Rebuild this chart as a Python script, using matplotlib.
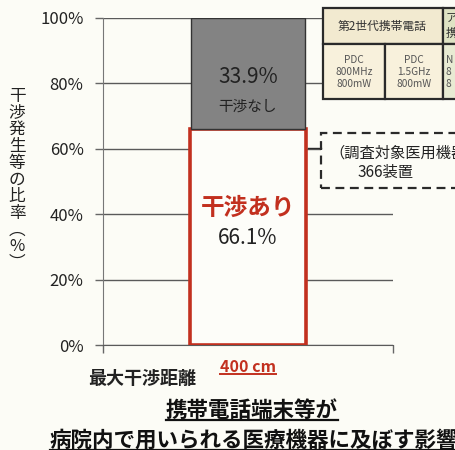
import numpy as np
import matplotlib.pyplot as plt
from matplotlib.patches import Rectangle
from matplotlib.lines import Line2D

plt.rcParams['font.family'] = ['Noto Sans CJK JP', 'DejaVu Sans']

categories = ['400 cm']
interference = [66.1]      # 干渉あり
no_interference = [33.9]   # 干渉なし
ytick_values = [0, 20, 40, 60, 80, 100]
ytick_labels = ['0%', '20%', '40%', '60%', '80%', '100%']

bg = '#fcfcf6'
red = '#c2301f'
gray = '#838383'
dark = '#222222'

fig = plt.figure(figsize=(4.55, 4.5), dpi=100, facecolor=bg)
ax = fig.add_axes([103/455, 1 - 345/450, 290/455, 327/450], facecolor=bg)

x = np.arange(len(categories))
ax.bar(x, interference, width=0.40, color='#fdfdf9', edgecolor=red, linewidth=2.6, zorder=3)
ax.bar(x, no_interference, width=0.39, bottom=interference, color=gray,
       edgecolor='#333333', linewidth=1.0, zorder=3)

ax.set_xlim(-0.5, 0.5)
ax.set_ylim(0, 100)
ax.set_yticks(ytick_values)
ax.set_yticklabels(ytick_labels, fontsize=12, color=dark)
ax.tick_params(axis='y', length=6, width=1, color='#666666', pad=8)
ax.yaxis.grid(True, color='#5a5a5a', linewidth=1.0, zorder=0)
ax.set_axisbelow(True)

ax.set_xticks([-0.5, 0.5])
ax.set_xticklabels(['', ''])
ax.tick_params(axis='x', which='major', length=6, width=1, color='#666666')
ax.set_xticks(x, minor=True)
ax.set_xticklabels(categories, minor=True, color=red, fontsize=11.5, fontweight='bold')
ax.tick_params(axis='x', which='minor', length=0, pad=10)

for s in ['top', 'right']:
    ax.spines[s].set_visible(False)
ax.spines['left'].set_color('#777777')
ax.spines['bottom'].set_color('#5a5a5a')

# bar texts
ax.text(0, interference[0] + no_interference[0] * 0.47, f'{no_interference[0]:.1f}%',
        ha='center', va='center', fontsize=15, color=dark, zorder=4)
ax.text(0, interference[0] + no_interference[0] * 0.2, '干渉なし',
        ha='center', va='center', fontsize=10.5, color=dark, zorder=4)
ax.text(0, interference[0] * 0.635, '干渉あり', ha='center', va='center',
        fontsize=17, fontweight='bold', color=red, zorder=4)
ax.text(0, interference[0] * 0.495, f'{interference[0]:.1f}%',
        ha='center', va='center', fontsize=15, color=dark, zorder=4)

# vertical y label
ylabel = ['干', '渉', '発', '生', '等', 'の', '比', '率', '︵', '%', '︶']
fig.text(17/455, 1 - 180/450, '\n'.join(ylabel), ha='center', va='center',
         fontsize=12, color=dark, linespacing=0.98)

fig.text(88/455, 1 - 378/450, '最大干渉距離', ha='left', va='center',
         fontsize=13, fontweight='bold', color=dark)

t1 = fig.text(252/455, 1 - 410/450, '携帯電話端末等が', ha='center', va='center',
              fontsize=15.5, fontweight='bold', color='#111111')
t2 = fig.text(50/455, 1 - 440/450, '病院内で用いられる医療機器に及ぼす影響', ha='left',
              va='center', fontsize=15.5, fontweight='bold', color='#111111')

# table of phone types (top right)
def fbox(x0, y0, x1, y1, fc, ls='-'):
    fig.patches.append(Rectangle((x0/455, 1 - y1/450), (x1 - x0)/455, (y1 - y0)/450,
                                 transform=fig.transFigure, facecolor=fc,
                                 edgecolor='#2a2a2a', linewidth=1.6, linestyle=ls,
                                 zorder=1))

fbox(323, 8, 443, 44, '#f2ead0')
fbox(323, 44, 385, 99, '#f8f1dc')
fbox(385, 44, 443, 99, '#f8f1dc')
fbox(443, 8, 470, 44, '#dfe3c4')
fbox(443, 44, 470, 99, '#e8ebd3')
fig.text(382/455, 1 - 26/450, '第2世代携帯電話', ha='center', va='center', fontsize=8.5, color='#333333')
fig.text(354/455, 1 - 72/450, 'PDC\n800MHz\n800mW', ha='center', va='center',
         fontsize=7.3, color='#555555', linespacing=1.2)
fig.text(414/455, 1 - 72/450, 'PDC\n1.5GHz\n800mW', ha='center', va='center',
         fontsize=7.3, color='#555555', linespacing=1.2)
fig.text(446/455, 1 - 26/450, 'ア\n携', ha='left', va='center', fontsize=8.5,
         color='#333333', linespacing=1.1)
fig.text(446/455, 1 - 72/450, 'N\n8\n8', ha='left', va='center', fontsize=7.3,
         color='#555555', linespacing=1.2)

# dashed note box
fbox(321, 133, 470, 188, bg, ls=(0, (4, 2.5)))
fig.lines.append(Line2D([308/455, 321/455], [1 - 148/450, 1 - 148/450],
                        transform=fig.transFigure, color='#2a2a2a', linewidth=1))
fig.text(329/455, 1 - 153/450, '（調査対象医用機器', ha='left', va='center',
         fontsize=11, color=dark)
fig.text(386/455, 1 - 172/450, '366装置', ha='center', va='center',
         fontsize=11, color=dark)

# underlines
fig.canvas.draw()
r = fig.canvas.get_renderer()
for t, c, lw in [(t1, '#111111', 1.6), (t2, '#111111', 1.6),
                 (ax.get_xticklabels(minor=True)[0], red, 1.4)]:
    bb = t.get_window_extent(r).transformed(fig.transFigure.inverted())
    fig.lines.append(Line2D([bb.x0, bb.x1], [bb.y0 + 0.002, bb.y0 + 0.002],
                            transform=fig.transFigure, color=c, linewidth=lw))

fig.savefig('out.png', dpi=100, facecolor=bg)
